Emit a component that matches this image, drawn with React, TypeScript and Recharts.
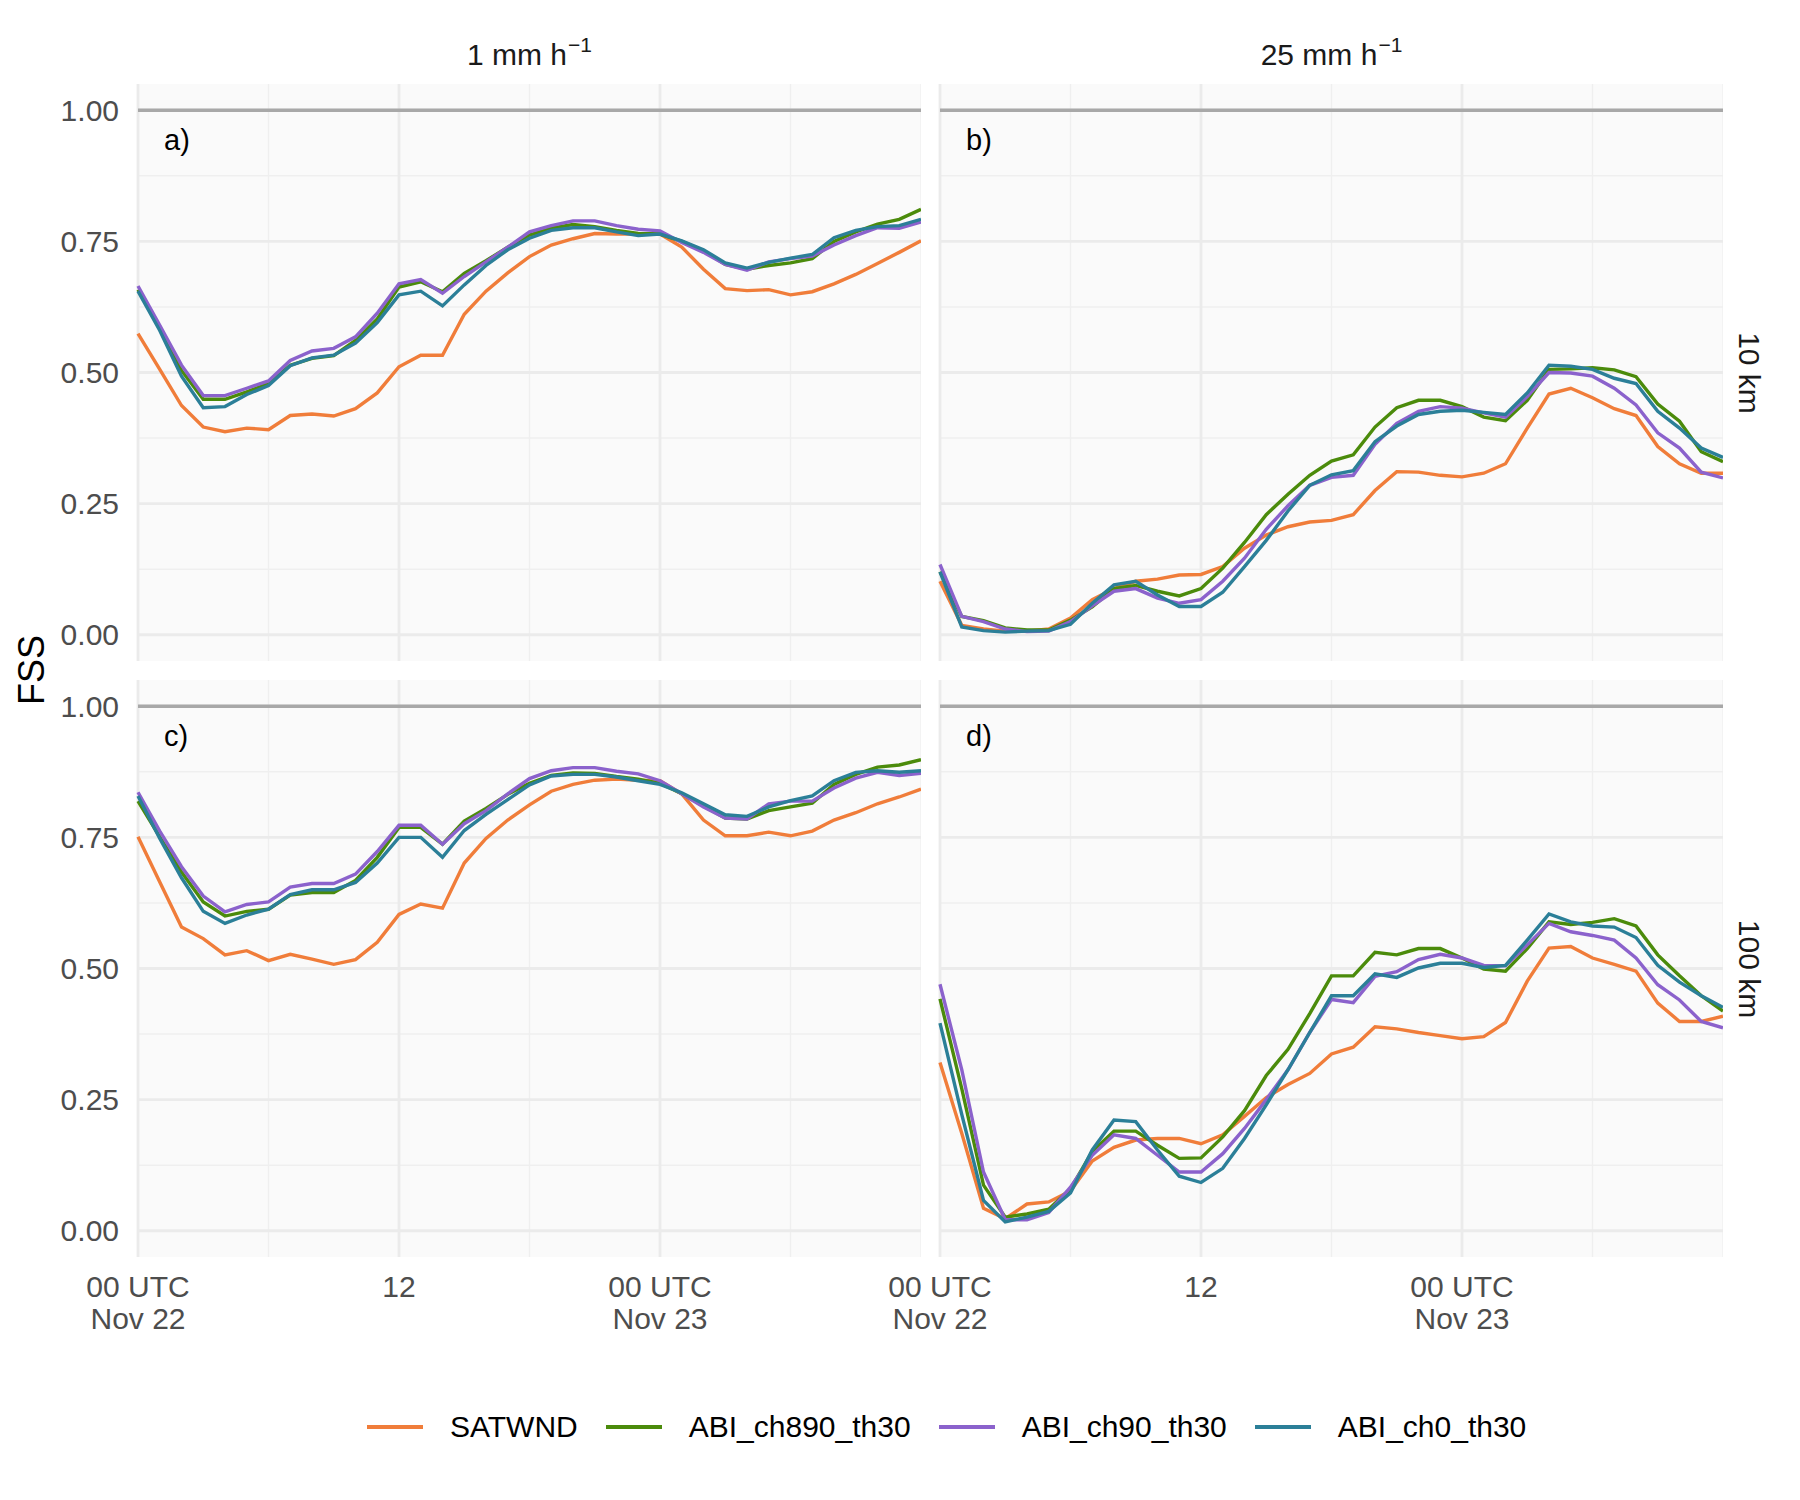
import React from 'react';
import { LineChart, Line, XAxis, YAxis, CartesianGrid, ReferenceLine } from 'recharts';

// ---------- data ----------
const HOURS = [0, 1, 2, 3, 4, 5, 6, 7, 8, 9, 10, 11, 12, 13, 14, 15, 16, 17, 18, 19, 20, 21, 22, 23, 24, 25, 26, 27, 28, 29, 30, 31, 32, 33, 34, 35, 36];

const SERIES_NAMES = ['SATWND', 'ABI_ch890_th30', 'ABI_ch90_th30', 'ABI_ch0_th30'];
const SERIES_COLORS = ['#F07D3A', '#4B8B0B', '#8B62CC', '#2B7F98'];

const ROW_LABELS = ['10 km', '100 km'];
const PANEL_TAGS = ['a)', 'b)', 'c)', 'd)'];

const X_TICKS = [0, 12, 24];
const X_TICK_LABELS = [['00 UTC', 'Nov 22'], ['12'], ['00 UTC', 'Nov 23']];
const X_MAJOR = [0, 12, 24];
const X_MINOR = [6, 18, 30, 36];
const Y_MAJOR = [0, 0.25, 0.5, 0.75, 1];
const Y_MINOR = [0.125, 0.375, 0.625, 0.875];

// panel a) 1 mm/h, 10 km
const A_SATWND = [0.574, 0.506, 0.437, 0.396, 0.387, 0.394, 0.391, 0.418, 0.421, 0.417, 0.431, 0.461, 0.511, 0.533, 0.533, 0.611, 0.655, 0.690, 0.721, 0.743, 0.755, 0.765, 0.764, 0.764, 0.764, 0.739, 0.697, 0.660, 0.656, 0.658, 0.648, 0.654, 0.669, 0.687, 0.708, 0.729, 0.751];
const A_CH890 = [0.658, 0.585, 0.504, 0.449, 0.449, 0.463, 0.479, 0.514, 0.527, 0.532, 0.561, 0.602, 0.663, 0.673, 0.654, 0.689, 0.713, 0.739, 0.762, 0.775, 0.782, 0.778, 0.771, 0.765, 0.764, 0.750, 0.732, 0.706, 0.697, 0.704, 0.709, 0.717, 0.750, 0.768, 0.783, 0.792, 0.811];
const A_CH90 = [0.665, 0.590, 0.514, 0.456, 0.456, 0.470, 0.484, 0.523, 0.541, 0.546, 0.568, 0.613, 0.669, 0.677, 0.651, 0.683, 0.711, 0.739, 0.768, 0.780, 0.789, 0.789, 0.780, 0.773, 0.770, 0.748, 0.729, 0.706, 0.695, 0.711, 0.717, 0.722, 0.743, 0.761, 0.776, 0.775, 0.787];
const A_CH0 = [0.655, 0.580, 0.493, 0.433, 0.435, 0.458, 0.475, 0.513, 0.528, 0.533, 0.556, 0.595, 0.648, 0.655, 0.627, 0.667, 0.704, 0.734, 0.756, 0.771, 0.776, 0.776, 0.768, 0.761, 0.764, 0.751, 0.734, 0.709, 0.699, 0.710, 0.718, 0.725, 0.757, 0.771, 0.778, 0.780, 0.792];

// panel b) 25 mm/h, 10 km
const B_SATWND = [0.102, 0.018, 0.011, 0.007, 0.007, 0.011, 0.032, 0.067, 0.088, 0.102, 0.106, 0.114, 0.115, 0.130, 0.165, 0.190, 0.206, 0.215, 0.218, 0.229, 0.275, 0.311, 0.310, 0.304, 0.301, 0.308, 0.326, 0.394, 0.459, 0.470, 0.452, 0.431, 0.418, 0.359, 0.326, 0.308, 0.308];
const B_CH890 = [0.120, 0.035, 0.027, 0.013, 0.009, 0.009, 0.028, 0.053, 0.088, 0.094, 0.083, 0.074, 0.088, 0.127, 0.176, 0.229, 0.268, 0.304, 0.331, 0.343, 0.396, 0.433, 0.447, 0.447, 0.435, 0.415, 0.408, 0.447, 0.506, 0.507, 0.509, 0.505, 0.492, 0.440, 0.407, 0.349, 0.330];
const B_CH90 = [0.134, 0.035, 0.025, 0.011, 0.006, 0.007, 0.025, 0.055, 0.083, 0.088, 0.070, 0.060, 0.067, 0.102, 0.146, 0.201, 0.246, 0.285, 0.300, 0.304, 0.363, 0.403, 0.426, 0.435, 0.432, 0.423, 0.415, 0.454, 0.500, 0.499, 0.493, 0.470, 0.438, 0.385, 0.356, 0.310, 0.299];
const B_CH0 = [0.120, 0.015, 0.008, 0.005, 0.007, 0.008, 0.020, 0.060, 0.095, 0.102, 0.076, 0.054, 0.054, 0.081, 0.130, 0.180, 0.236, 0.285, 0.305, 0.313, 0.368, 0.398, 0.420, 0.426, 0.428, 0.424, 0.420, 0.461, 0.514, 0.512, 0.506, 0.489, 0.479, 0.426, 0.394, 0.356, 0.338];

// panel c) 1 mm/h, 100 km
const C_SATWND = [0.751, 0.665, 0.579, 0.557, 0.526, 0.534, 0.515, 0.527, 0.518, 0.508, 0.517, 0.550, 0.603, 0.623, 0.615, 0.701, 0.748, 0.783, 0.812, 0.838, 0.851, 0.859, 0.861, 0.859, 0.858, 0.833, 0.783, 0.753, 0.753, 0.760, 0.753, 0.762, 0.783, 0.797, 0.814, 0.827, 0.842];
const C_CH890 = [0.819, 0.751, 0.684, 0.627, 0.600, 0.609, 0.613, 0.640, 0.645, 0.645, 0.668, 0.712, 0.769, 0.769, 0.737, 0.781, 0.805, 0.832, 0.853, 0.868, 0.873, 0.872, 0.866, 0.861, 0.853, 0.833, 0.810, 0.787, 0.785, 0.801, 0.808, 0.815, 0.851, 0.870, 0.884, 0.888, 0.898];
const C_CH90 = [0.836, 0.762, 0.694, 0.638, 0.608, 0.622, 0.627, 0.655, 0.662, 0.662, 0.680, 0.723, 0.773, 0.773, 0.737, 0.776, 0.801, 0.833, 0.862, 0.877, 0.883, 0.883, 0.876, 0.871, 0.858, 0.833, 0.808, 0.787, 0.785, 0.814, 0.819, 0.819, 0.844, 0.863, 0.874, 0.868, 0.872];
const C_CH0 = [0.829, 0.748, 0.673, 0.609, 0.586, 0.602, 0.613, 0.641, 0.650, 0.650, 0.664, 0.701, 0.750, 0.750, 0.712, 0.763, 0.794, 0.822, 0.850, 0.867, 0.870, 0.870, 0.865, 0.858, 0.851, 0.835, 0.814, 0.793, 0.790, 0.808, 0.820, 0.829, 0.858, 0.874, 0.877, 0.874, 0.877];

// panel d) 25 mm/h, 100 km
const D_SATWND = [0.321, 0.186, 0.043, 0.023, 0.051, 0.055, 0.076, 0.133, 0.159, 0.173, 0.176, 0.176, 0.166, 0.183, 0.218, 0.254, 0.279, 0.300, 0.337, 0.350, 0.389, 0.385, 0.378, 0.372, 0.366, 0.370, 0.397, 0.476, 0.539, 0.542, 0.520, 0.508, 0.495, 0.434, 0.399, 0.399, 0.409];
const D_CH890 = [0.442, 0.271, 0.087, 0.026, 0.032, 0.041, 0.080, 0.151, 0.190, 0.190, 0.163, 0.138, 0.139, 0.179, 0.229, 0.296, 0.346, 0.414, 0.486, 0.486, 0.531, 0.526, 0.538, 0.538, 0.520, 0.499, 0.495, 0.538, 0.589, 0.584, 0.588, 0.595, 0.581, 0.526, 0.486, 0.448, 0.419];
const D_CH90 = [0.470, 0.307, 0.112, 0.021, 0.021, 0.035, 0.083, 0.144, 0.183, 0.176, 0.144, 0.112, 0.112, 0.147, 0.195, 0.250, 0.307, 0.378, 0.441, 0.435, 0.485, 0.494, 0.517, 0.527, 0.520, 0.506, 0.505, 0.545, 0.586, 0.570, 0.563, 0.554, 0.520, 0.469, 0.440, 0.399, 0.387];
const D_CH0 = [0.396, 0.222, 0.058, 0.017, 0.026, 0.037, 0.072, 0.154, 0.211, 0.208, 0.154, 0.104, 0.092, 0.119, 0.176, 0.240, 0.307, 0.378, 0.448, 0.448, 0.490, 0.483, 0.501, 0.510, 0.510, 0.502, 0.506, 0.554, 0.604, 0.589, 0.581, 0.579, 0.559, 0.506, 0.474, 0.448, 0.426];

// ---------- layout ----------
const FONT = '"Liberation Sans", Arial, Helvetica, sans-serif';
const PW = 783;
const PH = 577;
const COL_LEFT = [138, 940];
const ROW_TOP = [84, 680];
const Y_AXIS_W = 138;
const RIGHT_PAD = 70; // room for the first tick label of right-hand panels
const X_AXIS_H = 100;

function buildRows(series: number[][]) {
  return HOURS.map((h, i) => {
    const row: Record<string, number> = { hour: h };
    SERIES_NAMES.forEach((name, k) => {
      row[name] = series[k][i];
    });
    return row;
  });
}

const PANELS = [
  { row: 0, col: 0, rows: buildRows([A_SATWND, A_CH890, A_CH90, A_CH0]) },
  { row: 0, col: 1, rows: buildRows([B_SATWND, B_CH890, B_CH90, B_CH0]) },
  { row: 1, col: 0, rows: buildRows([C_SATWND, C_CH890, C_CH90, C_CH0]) },
  { row: 1, col: 1, rows: buildRows([D_SATWND, D_CH890, D_CH90, D_CH0]) },
];

const TimeTick = (props: any) => {
  const { x, y, payload } = props;
  const idx = X_TICKS.indexOf(payload.value);
  const lines = idx >= 0 ? X_TICK_LABELS[idx] : [];
  return (
    <g>
      <text x={x} y={y} textAnchor="middle" fill="#4D4D4D" fontSize={30} fontFamily={FONT}>
        {lines.map((l, i) => (
          <tspan key={i} x={x} y={y + 40 + i * 32}>
            {l}
          </tspan>
        ))}
      </text>
    </g>
  );
};

function Panel({ rows, showY, showX, left, top }: any) {
  const yW = showY ? Y_AXIS_W : 0;
  const padL = showY ? 0 : RIGHT_PAD;
  const xH = showX ? X_AXIS_H : 0;
  return (
    <div style={{ position: 'absolute', left: left - yW - padL, top }}>
      <LineChart
        width={PW + yW + padL}
        height={PH + xH}
        data={rows}
        margin={{ top: 0, right: 0, bottom: 0, left: padL }}
        style={{ overflow: 'visible' }}
      >
        <CartesianGrid
          fill="#FAFAFA"
          stroke="#EFEFEF"
          strokeWidth={1.4}
          horizontalValues={Y_MINOR}
          verticalValues={X_MINOR}
        />
        <CartesianGrid
          stroke="#EBEBEB"
          strokeWidth={2.8}
          horizontalValues={Y_MAJOR}
          verticalValues={X_MAJOR}
        />
        <XAxis
          dataKey="hour"
          type="number"
          domain={[0, 36]}
          ticks={X_TICKS}
          interval={0}
          hide={!showX}
          height={xH}
          axisLine={false}
          tickLine={false}
          tickSize={0}
          tickMargin={0}
          tick={<TimeTick />}
        />
        <YAxis
          type="number"
          domain={[-0.05, 1.05]}
          ticks={Y_MAJOR}
          interval={0}
          allowDataOverflow
          hide={!showY}
          width={yW}
          axisLine={false}
          tickLine={false}
          tickSize={0}
          tickMargin={19}
          tickFormatter={(v: number) => v.toFixed(2)}
          tick={{ fill: '#4D4D4D', fontSize: 30, fontFamily: FONT }}
        />
        <ReferenceLine y={1} stroke="#A8A8A8" strokeWidth={3.5} />
        {SERIES_NAMES.map((name, k) => (
          <Line
            key={name}
            type="linear"
            dataKey={name}
            stroke={SERIES_COLORS[k]}
            strokeWidth={3.4}
            dot={false}
            activeDot={false}
            isAnimationActive={false}
          />
        ))}
      </LineChart>
    </div>
  );
}

export default function App() {
  const textBase: React.CSSProperties = { position: 'absolute', fontFamily: FONT, whiteSpace: 'nowrap' };
  return (
    <div style={{ position: 'absolute', left: 0, top: 0, width: 1800, height: 1500, background: '#FFFFFF', overflow: 'hidden' }}>
      {PANELS.map((p, i) => (
        <Panel
          key={i}
          rows={p.rows}
          showY={p.col === 0}
          showX={p.row === 1}
          left={COL_LEFT[p.col]}
          top={ROW_TOP[p.row]}
        />
      ))}

      {/* panel tags */}
      {PANELS.map((p, i) => (
        <div
          key={'tag' + i}
          style={{ ...textBase, left: COL_LEFT[p.col] + 26, top: ROW_TOP[p.row] + 42, fontSize: 29, lineHeight: '29px', color: '#000' }}
        >
          {PANEL_TAGS[i]}
        </div>
      ))}

      {/* column strips */}
      {['1', '25'].map((v, c) => (
        <div
          key={'strip' + c}
          style={{ ...textBase, left: COL_LEFT[c], top: 40, width: PW, textAlign: 'center', fontSize: 30, lineHeight: '30px', color: '#1A1A1A' }}
        >
          {v} mm h<span style={{ fontSize: 21, position: 'relative', top: -13, marginLeft: 1 }}>−1</span>
        </div>
      ))}

      {/* row strips */}
      {ROW_LABELS.map((lab, r) => (
        <div
          key={'row' + r}
          style={{
            ...textBase,
            left: 1749 - 100,
            top: ROW_TOP[r] + PH / 2 - 15,
            width: 200,
            textAlign: 'center',
            fontSize: 30,
            lineHeight: '30px',
            color: '#1A1A1A',
            transform: 'rotate(90deg)',
          }}
        >
          {lab}
        </div>
      ))}

      {/* y title */}
      <div
        style={{
          ...textBase,
          left: 32 - 60,
          top: 670 - 18,
          width: 120,
          textAlign: 'center',
          fontSize: 36,
          lineHeight: '36px',
          color: '#000',
          transform: 'rotate(-90deg)',
        }}
      >
        FSS
      </div>

      {/* legend */}
      <div style={{ position: 'absolute', left: 367, top: 1427 - 15, height: 30, display: 'flex', alignItems: 'center', fontFamily: FONT }}>
        {SERIES_NAMES.map((name, k) => (
          <div key={name} style={{ display: 'flex', alignItems: 'center', marginRight: 28 }}>
            <div style={{ width: 56, height: 4, background: SERIES_COLORS[k], marginRight: 27 }} />
            <span style={{ fontSize: 30, lineHeight: '30px', color: '#000' }}>{name}</span>
          </div>
        ))}
      </div>
    </div>
  );
}
